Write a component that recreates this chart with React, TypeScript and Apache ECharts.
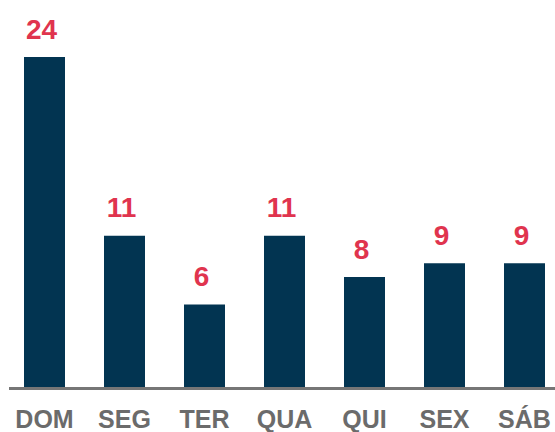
import React, { useEffect, useRef } from "react";
import * as echarts from "echarts";

const categories = ["DOM", "SEG", "TER", "QUA", "QUI", "SEX", "SÁB"];
const values = [24, 11, 6, 11, 8, 9, 9];

export default function App() {
  const ref = useRef<HTMLDivElement>(null);
  useEffect(() => {
    const chart = echarts.init(ref.current!, null, { renderer: "svg" });
    chart.setOption({
      animation: false,
      grid: { left: 4.5, width: 560, top: 57, bottom: 45, containLabel: false },
      xAxis: {
        type: "category",
        data: categories,
        axisLine: { show: false },
        axisTick: { show: false },
        axisLabel: {
          color: "#6b6b6b",
          fontSize: 25,
          fontWeight: "bold",
          fontFamily: "Liberation Sans, Arial, sans-serif",
          margin: 19,
        },
      },
      yAxis: {
        type: "value",
        min: 0,
        max: 24,
        show: false,
        splitLine: { show: false },
      },
      graphic: [
        {
          type: "line",
          shape: { x1: 9, y1: 388.5, x2: 555, y2: 388.5 },
          style: { stroke: "#767676", lineWidth: 3 },
          silent: true,
        },
      ],
      series: [
        {
          type: "bar",
          data: values,
          barWidth: 41,
          itemStyle: { color: "#023451" },
          label: {
            show: true,
            position: "top",
            distance: 14,
            offset: [-3, 0],
            color: "#e0344e",
            fontSize: 28,
            fontWeight: "bold",
            fontFamily: "Liberation Sans, Arial, sans-serif",
          },
        },
      ],
    });
    return () => chart.dispose();
  }, []);
  return (
    <div style={{ position: "absolute", left: 0, top: 0, width: 555, height: 432, overflow: "hidden" }}>
      <div ref={ref} style={{ width: 570, height: 432 }} />
    </div>
  );
}
